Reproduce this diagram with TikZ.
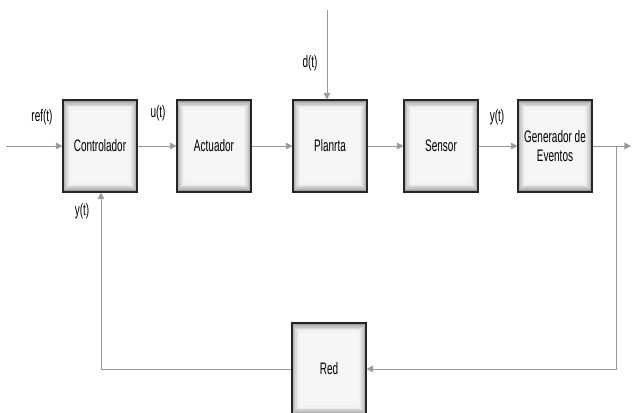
\documentclass[tikz,border=0pt]{standalone}
\usepackage{fontspec}
\setmainfont{Liberation Sans}[FakeStretch=0.6]
\usetikzlibrary{arrows.meta,calc}

\tikzset{
  bloque/.style={draw=black!85, line width=0.8pt, fill=gray!7, minimum width=55.5pt, minimum height=69pt,
    inner sep=1pt, align=center, font=\fontsize{12.5}{14}\selectfont,
    path picture={
      \foreach \d/\c in {1.2/75,2.6/60,4/45,5.4/30,6.8/18,8.2/10}{
        \draw[gray!\c, line width=1.6pt]
          ($(path picture bounding box.north west)!\d pt!(path picture bounding box.south east)$) rectangle
          ($(path picture bounding box.south east)!\d pt!(path picture bounding box.north west)$);
      }
    }},
  senal/.style={draw=gray!80, line width=0.7pt, -{Triangle[width=5pt,length=5pt]}},
  etiqueta/.style={inner sep=0pt, font=\fontsize{12.5}{14}\selectfont}
}

\begin{document}
\begin{tikzpicture}[x=0.75pt,y=0.75pt,yscale=-1,xscale=1]
    \useasboundingbox (0,0) rectangle (632,412);

    % Bloques
    \node[bloque] (contr) at (100,146) {Controlador};
    \node[bloque] (act) at (214,146) {Actuador};
    \node[bloque] (planta) at (330,146) {Planrta};
    \node[bloque] (sensor) at (441,146) {Sensor};
    \node[bloque] (gen) at (555,146) {Generador de\\Eventos};
    \node[bloque] (red) at (329,369) {Red};

    % Puntos libres
    \coordinate (ent) at (6,146);
    \coordinate (sal) at (631,146);
    \coordinate (pert) at (327,10);
    \coordinate (rama) at (616,146);
    \coordinate (esq1) at (616,369);
    \coordinate (esq2) at (101,369);

    % Lazo directo
    \draw[senal] (ent) -- (contr);
    \draw[senal] (contr) -- (act);
    \draw[senal] (act) -- (planta);
    \draw[senal] (planta) -- (sensor);
    \draw[senal] (sensor) -- (gen);
    \draw[senal] (gen) -- (sal);
    \draw[senal] (pert) -- (pert |- planta.north);

    % Realimentacion
    \draw[senal] (rama) -- (esq1) -- (red);
    \draw[senal] (red) -- (esq2) -- (esq2 |- contr.south);

    % Etiquetas
    \node[etiqueta] (lref) at (42,117) {ref(t)};
    \node[etiqueta] (lu) at (158,113) {u(t)};
    \node[etiqueta] (ld) at (310,63) {d(t)};
    \node[etiqueta] (ly) at (497,117) {y(t)};
    \node[etiqueta] (lyr) at (82,211) {y(t)};

\end{tikzpicture}
\end{document}
